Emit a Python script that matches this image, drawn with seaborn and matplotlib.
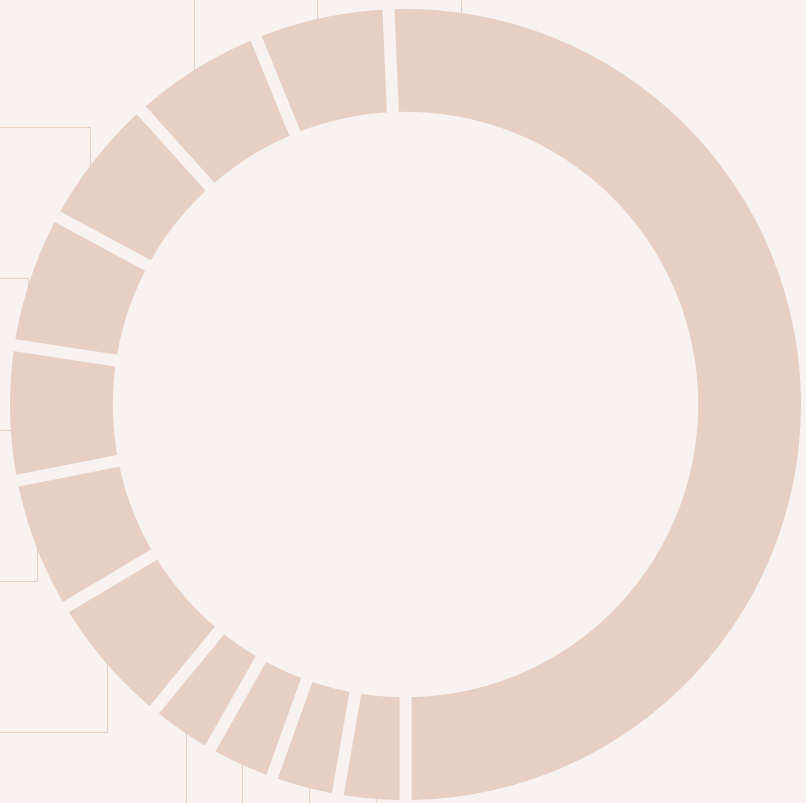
import numpy as np
import matplotlib
matplotlib.use("Agg")
import matplotlib.pyplot as plt
import seaborn as sns

# ---- data ----
categories = ["A", "B", "C", "D", "E", "F", "G", "H", "I", "J", "K", "L"]
values = [37, 2, 2, 2, 2, 4, 4, 4, 4, 4, 4, 4]

BG = "#f8f3f1"
SEG = "#e7cfc4"
LINE = "#e9cfc4"

sns.set_theme(style="white", rc={"figure.facecolor": BG, "axes.facecolor": BG})

W_PX, H_PX = 806, 804
fig = plt.figure(figsize=(W_PX / 100, H_PX / 100), dpi=100)
ax = fig.add_axes([0, 0, 1, 1])
ax.set_facecolor(BG)

# geometry in pixels (y measured from top, converted below)
cx, cy_top = 405.5, 405.5
cy = H_PX - cy_top
R_out, R_in = 395.5, 292.7
gap_px = 12
start = 92.47

wedges, _ = ax.pie(values, startangle=start, counterclock=False, radius=R_out,
                   center=(cx, cy), colors=[SEG] * len(values),
                   wedgeprops=dict(width=R_out - R_in, edgecolor="none", linewidth=0))
for w in wedges:
    w.set_zorder(3)

# separating gaps between segments
total = sum(values)
cum = np.cumsum([0] + values)
for c in cum[:-1]:
    th = np.deg2rad(start - 360 * c / total)
    r0, r1 = R_in - 3, R_out + 3
    ax.plot([cx + r0 * np.cos(th), cx + r1 * np.cos(th)],
            [cy + r0 * np.sin(th), cy + r1 * np.sin(th)],
            color=BG, lw=gap_px * 72 / 100, solid_capstyle="butt", zorder=4)

# decorative leader lines (x of vertical part, y of elbow from top, direction)
leaders = [(194.3, 0, "top"), (316.7, 0, "top"), (461.0, 0, "top"),
           (90.3, 127.7, "left"), (28.3, 279.3, "left"), (14.0, 430.7, "left"),
           (36.7, 582.3, "left"), (106.7, 733.3, "left"),
           (186.0, H_PX, "bottom"), (242.3, H_PX, "bottom"),
           (309.3, H_PX, "bottom"), (376.0, H_PX, "bottom")]
lw = 1.1 * 72 / 100
for xv, ye, d in leaders:
    dx = xv - cx
    h = np.sqrt(max(R_out ** 2 - dx ** 2, 0))
    y_top_hit, y_bot_hit = cy_top - h, cy_top + h
    if y_top_hit <= ye <= y_bot_hit:
        ys = ye
    elif ye < y_top_hit:
        ys = y_top_hit + 8
    else:
        ys = y_bot_hit - 8
    if d == "top":
        pts_x, pts_y = [xv, xv], [ys, -5]
    elif d == "bottom":
        pts_x, pts_y = [xv, xv], [ys, H_PX + 5]
    else:
        pts_x, pts_y = [xv, xv, -5], [ys, ye, ye]
    ax.plot(pts_x, [H_PX - p for p in pts_y], color=LINE, lw=lw, zorder=1,
            solid_joinstyle="miter")

ax.set_xlim(0, W_PX)
ax.set_ylim(0, H_PX)
ax.set_aspect("auto")
ax.axis("off")

fig.savefig("out.png", dpi=100, facecolor=BG)
